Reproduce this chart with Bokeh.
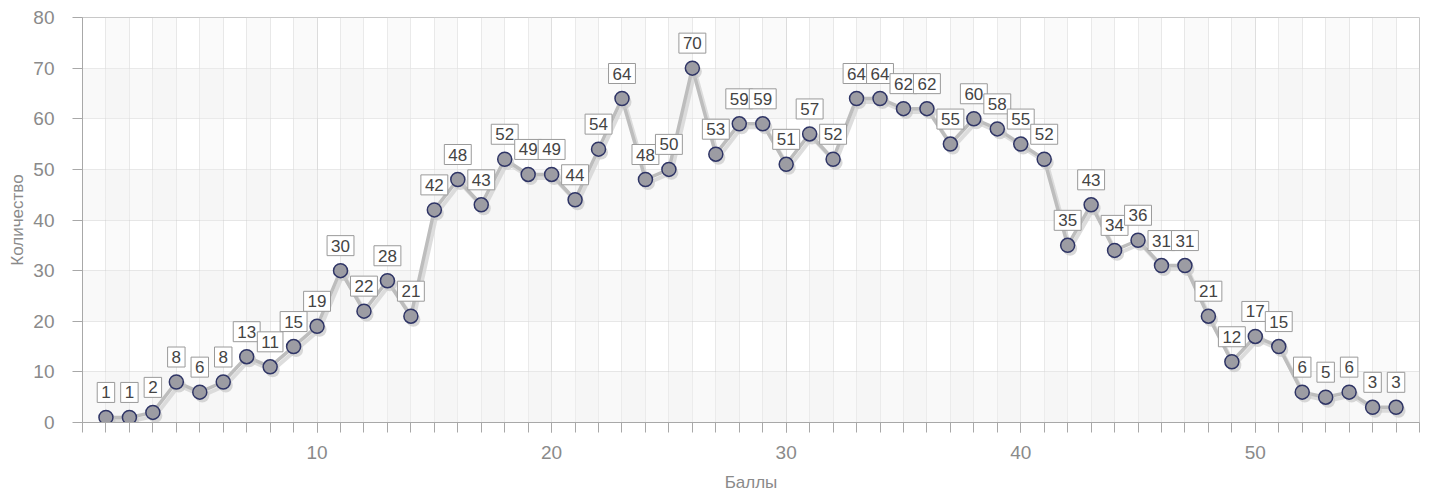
import numpy as np
from bokeh.plotting import figure
from bokeh.models import ColumnDataSource, FixedTicker, Range1d
from bokeh.core.properties import value
from bokeh.embed import file_html
from bokeh.resources import INLINE

scores = list(range(1, 57))
counts = [1, 1, 2, 8, 6, 8, 13, 11, 15, 19, 30, 22, 28, 21, 42, 48, 43, 52, 49, 49,
          44, 54, 64, 48, 50, 70, 53, 59, 59, 51, 57, 52, 64, 64, 62, 62, 55, 60, 58, 55,
          52, 35, 43, 34, 36, 31, 31, 21, 12, 17, 15, 6, 5, 6, 3, 3]
x_major_ticks = [10, 20, 30, 40, 50]
y_ticks = [0, 10, 20, 30, 40, 50, 60, 70, 80]

X0, X1, Y0, Y1 = 0, 57, 0, 80
W, H = 1424, 494
ML, MR, MT, MB = 82, 5, 17, 71
fw = W - ML - MR
fh = H - MT - MB
px_x = (X1 - X0) / fw
px_y = (Y1 - Y0) / fh

p = figure(width=W, height=H, output_backend="svg", toolbar_location=None,
           x_range=Range1d(X0, X1), y_range=Range1d(Y0, Y1),
           min_border_left=ML, min_border_right=MR, min_border_top=MT, min_border_bottom=MB)
p.background_fill_color = "white"
p.border_fill_color = "white"
p.outline_line_color = "#c8c8c8"
p.outline_line_width = 1

# background bands
yb = np.arange(0, 80, 20)
p.quad(left=X0, right=X1, bottom=yb, top=yb + 10, fill_color="#f0f0f0", fill_alpha=0.4, line_color=None)
xb = np.arange(1, 57, 2)
p.quad(left=xb, right=xb + 1, bottom=Y0, top=Y1, fill_color="#f0f0f0", fill_alpha=0.3, line_color=None)

src = ColumnDataSource(dict(x=scores, y=counts, lbl=[str(c) for c in counts],
                            sx=[v + 2.5 * px_x for v in scores],
                            sy=[c - 3.5 * px_y for c in counts]))

# shadows
p.line("sx", "sy", source=src, line_color="#d4d4d4", line_width=4, line_alpha=0.8)
p.line("x", "y", source=src, line_color="#bdbdbd", line_width=3.5)
p.scatter("sx", "sy", source=src, size=14, fill_color="#c8c8c8", fill_alpha=0.7, line_color=None)
p.scatter("x", "y", source=src, size=14, fill_color="#9c9ca3", line_color="#2f3566", line_width=1.5)

p.text("x", "y", text="lbl", source=src, y_offset=-15,
       text_align="center", text_baseline="bottom",
       text_font=value("Liberation Sans"), text_font_size="17px", text_color="#444444",
       background_fill_color="white", border_line_color="#9a9a9a", border_line_width=1,
       padding=4)

# grid
p.xgrid.ticker = FixedTicker(ticks=x_major_ticks, minor_ticks=list(range(0, 58)))
p.xgrid.grid_line_color = "#d0d0d0"
p.xgrid.grid_line_dash = "1 1"
p.xgrid.minor_grid_line_color = "#d0d0d0"
p.xgrid.minor_grid_line_dash = "1 1"
p.ygrid.ticker = FixedTicker(ticks=y_ticks)
p.ygrid.grid_line_color = "#cccccc"
p.ygrid.grid_line_dash = "1 1"

# axes
p.xaxis.ticker = FixedTicker(ticks=x_major_ticks, minor_ticks=list(range(0, 58)))
p.yaxis.ticker = FixedTicker(ticks=y_ticks)
for ax in (p.xaxis[0], p.yaxis[0]):
    ax.axis_line_color = "#a8a8a8"
    ax.major_tick_line_color = "#a8a8a8"
    ax.minor_tick_line_color = "#a8a8a8"
    ax.major_tick_out = 10
    ax.major_tick_in = 0
    ax.minor_tick_out = 10
    ax.minor_tick_in = 0
    ax.major_label_text_color = "#8a8a8a"
    ax.major_label_text_font = "Liberation Sans"
    ax.major_label_text_font_size = "19px"
    ax.axis_label_text_color = "#8a8a8a"
    ax.axis_label_text_font = "Liberation Sans"
    ax.axis_label_text_font_size = "17px"
    ax.axis_label_text_font_style = "normal"
p.yaxis.minor_tick_line_color = None
p.xaxis.axis_label = "Баллы"
p.yaxis.axis_label = "Количество"
p.xaxis.major_label_standoff = 13
p.xaxis.axis_label_standoff = 11
p.yaxis.major_label_standoff = 18
p.yaxis.axis_label_standoff = 3

open("out.html", "w").write(file_html(p, INLINE))
